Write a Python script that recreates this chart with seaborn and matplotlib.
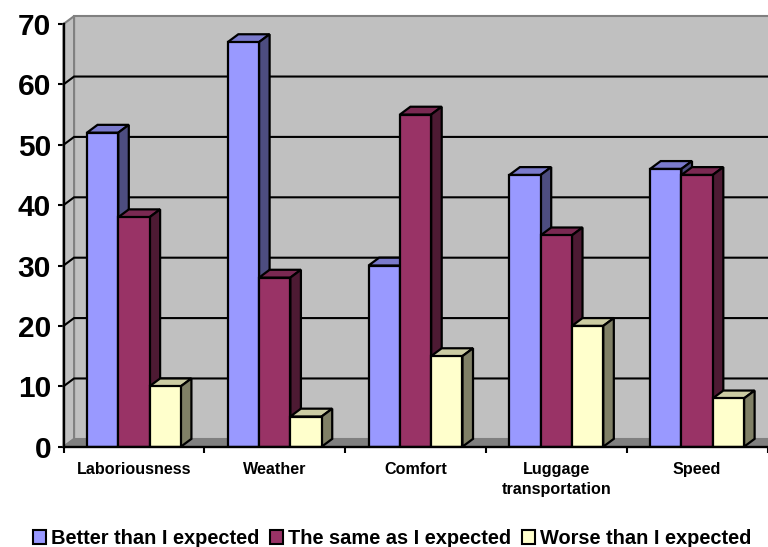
import matplotlib
matplotlib.use("Agg")
import matplotlib.pyplot as plt
from matplotlib.patches import Patch, Polygon
import pandas as pd
import seaborn as sns

categories = ["Laboriousness", "Weather", "Comfort", "Luggage\ntransportation", "Speed"]
better = [52, 67, 30, 45, 46]
same = [38, 28, 55, 35, 45]
worse = [10, 5, 15, 20, 8]
series_names = ["Better than I expected", "The same as I expected", "Worse than I expected"]
front_colors = ["#9999FF", "#993366", "#FFFFCC"]
top_colors = ["#7A7ACC", "#7A2952", "#CCCCA3"]
side_colors = ["#4D4D80", "#4D1A33", "#808066"]
y_ticks = [0, 10, 20, 30, 40, 50, 60, 70]

# Oblique depth of the pseudo-3D box, in data units (x: categories, y: value)
DX, DY = 0.075, 1.3

sns.set_theme(style="white")
plt.rcParams["font.family"] = ["Liberation Sans", "DejaVu Sans"]
plt.rcParams["font.weight"] = "bold"

fig = plt.figure(figsize=(7.68, 5.47), dpi=100)
ax = fig.add_axes([63.5 / 768, 1 - 446.7 / 547, (767.5 - 63.5) / 768, (446.7 - 24) / 547])

df = pd.DataFrame({
    "category": categories * 3,
    "series": [n for n in series_names for _ in categories],
    "value": better + same + worse,
})
sns.barplot(data=df, x="category", y="value", hue="series", order=categories,
            hue_order=series_names, palette=front_colors, saturation=1,
            width=0.667, gap=0, dodge=True, legend=False, ax=ax,
            edgecolor="black", linewidth=1.6, errorbar=None)
bars = sorted(ax.patches, key=lambda p: p.get_x())

ax.set_xlim(-0.5, 4.5)
ax.set_ylim(0, 70)
ax.set_xlabel("")
ax.set_ylabel("")

x0, x1 = -0.5, 4.5
# Back wall, side wall and floor of the box
ax.add_patch(Polygon([(x0 + DX, DY), (x1 + DX, DY), (x1 + DX, 70 + DY), (x0 + DX, 70 + DY)],
                     closed=True, fc="#C0C0C0", ec="#808080", lw=1.5, zorder=0.5, clip_on=False))
ax.add_patch(Polygon([(x0, 0), (x0 + DX, DY), (x0 + DX, 70 + DY), (x0, 70)],
                     closed=True, fc="#C0C0C0", ec="#808080", lw=1.5, zorder=0.6, clip_on=False))
ax.add_patch(Polygon([(x0, 0), (x0 + DX, DY), (x1 + DX, DY), (x1, 0)],
                     closed=True, fc="#808080", ec="#808080", lw=1.0, zorder=0.7, clip_on=False))

# Gridlines run along the back wall and step diagonally across the side wall
for v in y_ticks[1:-1]:
    ax.plot([x0, x0 + DX, x1 + DX], [v, v + DY, v + DY], color="black", lw=1.5,
            zorder=1, clip_on=False, solid_joinstyle="miter")

# Extrude each bar: top and side faces sit just behind its front face
for i, bar in enumerate(bars):
    left, w, h = bar.get_x(), bar.get_width(), bar.get_height()
    right = left + w
    s = i % 3
    z = 2 + i
    ax.add_patch(Polygon([(left, h), (left + DX, h + DY), (right + DX, h + DY), (right, h)],
                         closed=True, fc=top_colors[s], ec="black", lw=1.6, zorder=z,
                         joinstyle="miter", clip_on=False))
    ax.add_patch(Polygon([(right, 0), (right + DX, DY), (right + DX, h + DY), (right, h)],
                         closed=True, fc=side_colors[s], ec="black", lw=1.6, zorder=z,
                         joinstyle="miter", clip_on=False))
    bar.set_zorder(z + 0.5)
    bar.set_joinstyle("miter")

sns.despine(ax=ax, top=True, right=True)
for name in ("left", "bottom"):
    ax.spines[name].set_linewidth(1.7)
    ax.spines[name].set_color("black")
    ax.spines[name].set_zorder(50)

ax.set_yticks(y_ticks)
ax.set_yticklabels([str(v) for v in y_ticks], fontsize=21.5, fontweight="bold", color="black")
ax.tick_params(axis="y", length=4.5, width=1.5, color="black", pad=4.5, left=True)
ax.set_xticks(range(len(categories)))
ax.set_xticklabels(categories, fontsize=11.6, fontweight="bold", color="black", linespacing=1.45)
ax.set_xticks([x0 + i for i in range(len(categories) + 1)], minor=True)
ax.tick_params(axis="x", which="major", length=0, pad=11)
ax.tick_params(axis="x", which="minor", length=4.5, width=1.5, color="black", bottom=True)

handles = [Patch(fc=c, ec="black", lw=1.5, label=n) for c, n in zip(front_colors, series_names)]
fig.legend(handles=handles, loc="center", bbox_to_anchor=(392 / 768, 1 - 538.5 / 547), ncols=3,
           frameon=False, fontsize=14.4, labelcolor="black", handlelength=0.65, handleheight=0.65,
           handletextpad=0.25, columnspacing=0.55, borderpad=0)

fig.savefig("out.png", dpi=100)
